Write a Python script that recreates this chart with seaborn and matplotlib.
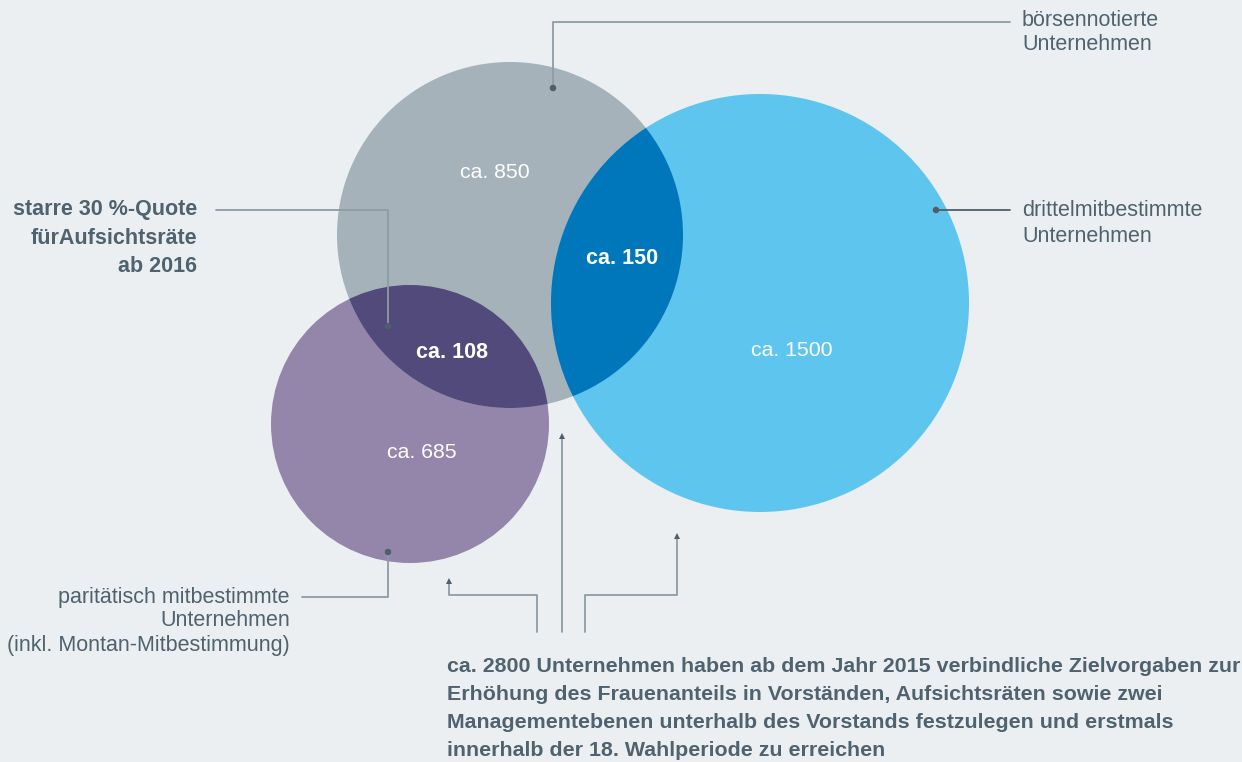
import matplotlib
matplotlib.use("Agg")
import matplotlib.pyplot as plt
from matplotlib.patches import Circle
import seaborn as sns
import pandas as pd

# ---- data ----
sets = ["börsennotierte Unternehmen", "drittelmitbestimmte Unternehmen",
        "paritätisch mitbestimmte Unternehmen"]
only_counts = ["ca. 850", "ca. 1500", "ca. 685"]
overlap_names = ["börsennotiert ∩ drittelmitbestimmt", "börsennotiert ∩ paritätisch"]
overlap_counts = ["ca. 150", "ca. 108"]
label_boerse = ["börsennotierte", "Unternehmen"]
label_drittel = ["drittelmitbestimmte", "Unternehmen"]
label_quote = ["starre 30 %-Quote", "fürAufsichtsräte", "ab 2016"]
label_parit = ["paritätisch mitbestimmte", "Unternehmen", "(inkl. Montan-Mitbestimmung)"]
footnote = ["ca. 2800 Unternehmen haben ab dem Jahr 2015 verbindliche Zielvorgaben zur",
            "Erhöhung des Frauenanteils in Vorständen, Aufsichtsräten sowie zwei",
            "Managementebenen unterhalb des Vorstands festzulegen und erstmals",
            "innerhalb der 18. Wahlperiode zu erreichen"]

# ---- style ----
BG = "#EBEFF2"
C_GRAY, C_BLUE, C_PURPLE = "#A5B2B9", "#5EC5EE", "#9486AB"
C_DBLUE, C_DPURPLE = "#0077BA", "#524A7B"
TXT = "#4F626D"
LINE = "#8C9CA5"
DOT = "#4E5F69"

sns.set_theme(style="white")
plt.rcParams["font.family"] = ["Liberation Sans", "DejaVu Sans"]

fig = plt.figure(figsize=(12.42, 7.62), dpi=100, facecolor=BG)
ax = fig.add_axes([0, 0, 1, 1])
ax.set_facecolor(BG)
ax.set_xlim(0, 1242)
ax.set_ylim(762, 0)
ax.axis("off")

# circle geometry (layout)
geo = {
    sets[0]: (510, 235, 173, C_GRAY),
    sets[1]: (760, 303, 209, C_BLUE),
    sets[2]: (410, 424, 139, C_PURPLE),
}
circles = {}
for name in [sets[2], sets[0], sets[1]]:
    cx, cy, r, col = geo[name]
    c = Circle((cx, cy), r, facecolor=col, edgecolor="none", zorder=1)
    ax.add_patch(c)
    circles[name] = c

# overlaps
for (a, b), col in [((sets[1], sets[0]), C_DBLUE), ((sets[2], sets[0]), C_DPURPLE)]:
    cx, cy, r, _ = geo[a]
    ov = Circle((cx, cy), r, facecolor=col, edgecolor="none", zorder=2)
    ax.add_patch(ov)
    ov.set_clip_path(circles[b])

# count labels
pos_only = [(495, 173), (792, 351), (422, 452)]
for txt, (x, y) in zip(only_counts, pos_only):
    ax.text(x, y, txt, color="white", fontsize=15.3, ha="center", va="center", zorder=5)
pos_ov = [(622, 259), (452, 352)]
for txt, (x, y) in zip(overlap_counts, pos_ov):
    ax.text(x, y, txt, color="white", fontsize=15.5, fontweight="bold",
            ha="center", va="center", zorder=5)

# leader lines
lw = 1.3
ax.plot([553, 553, 1010], [88, 22, 22], color=LINE, lw=lw, zorder=4)
ax.plot([936, 1010], [210, 210], color=DOT, lw=lw, zorder=4)
ax.plot([216, 388, 388], [210, 210, 326], color=LINE, lw=lw, zorder=4)
ax.plot([302, 388, 388], [597, 597, 552], color=LINE, lw=lw, zorder=4)

dots = pd.DataFrame({"x": [553, 936, 388, 388], "y": [88, 210, 326, 552]})
sns.scatterplot(data=dots, x="x", y="y", ax=ax, color=DOT, s=22,
                edgecolor="none", zorder=6, legend=False)

# bottom arrows
ax.plot([537, 537, 449, 449], [632, 595, 595, 583], color=LINE, lw=lw, zorder=4)
ax.plot([562, 562], [632, 438], color=LINE, lw=lw, zorder=4)
ax.plot([585, 585, 677, 677], [632, 595, 595, 538], color=LINE, lw=lw, zorder=4)
for x, y in [(449, 581), (562, 436), (677, 536)]:
    ax.plot(x, y, marker="^", color=DOT, markersize=5, markeredgewidth=0, zorder=6)

# outside labels
fs = 15.5
for i, t in enumerate(label_boerse):
    ax.text(1022, 20 + 25 * i, t, color=TXT, fontsize=fs, ha="left", va="center")
for i, t in enumerate(label_drittel):
    ax.text(1022, 210 + 27 * i, t, color=TXT, fontsize=fs, ha="left", va="center")
for i, t in enumerate(label_quote):
    ax.text(197, 210 + 28 * i, t, color=TXT, fontsize=fs, fontweight="bold",
            ha="right", va="center")
for i, t in enumerate(label_parit):
    ax.text(290, 597 + 24 * i, t, color=TXT, fontsize=fs, ha="right", va="center")
for i, t in enumerate(footnote):
    ax.text(447, 666 + 28 * i, t, color=TXT, fontsize=15.4, fontweight="bold",
            ha="left", va="center")

fig.savefig("out.png", dpi=100, facecolor=BG)
